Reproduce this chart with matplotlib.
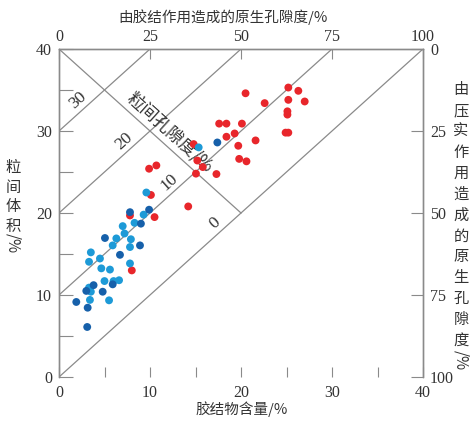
import numpy as np
import matplotlib
matplotlib.use('Agg')
import matplotlib.pyplot as plt

plt.rcParams['font.family'] = ['Liberation Serif', 'Noto Sans CJK SC', 'DejaVu Sans']
cjk = ['Noto Sans CJK SC', 'DejaVu Sans']

# 数据 (胶结物含量 %, 粒间体积 %)
red_x = [7.8, 10.5, 8.0, 10.1, 14.2, 9.9, 10.7, 14.8, 15.2, 15.8, 15.05, 17.3,
         17.6, 18.4, 20.1, 19.3, 18.4, 19.7, 21.6, 19.8, 20.6, 20.5, 22.6, 25.2,
         26.3, 25.2, 27.0, 25.1, 25.1, 24.9, 25.2]
red_y = [19.7, 19.5, 13.0, 22.2, 20.8, 25.4, 25.8, 28.4, 26.4, 25.6, 24.8, 24.75,
         30.9, 30.9, 30.9, 29.7, 29.3, 28.2, 28.85, 26.6, 26.3, 34.6, 33.4, 35.3,
         34.9, 33.8, 33.6, 32.4, 32.0, 29.8, 29.8]

lblue_x = [9.3, 8.3, 7.0, 7.2, 6.3, 7.9, 5.9, 7.8, 3.5, 4.5, 3.3, 7.8, 4.65, 5.6,
           5.0, 6.0, 6.6, 3.3, 3.5, 3.4, 5.5, 9.6, 15.35]
lblue_y = [19.8, 18.8, 18.4, 17.5, 16.9, 16.8, 16.05, 15.85, 15.2, 14.45, 14.05,
           13.85, 13.25, 13.1, 11.7, 11.7, 11.8, 10.9, 10.4, 9.4, 9.35, 22.5, 28.0]

dblue_x = [7.8, 9.9, 9.0, 5.05, 8.9, 6.7, 5.9, 3.8, 3.0, 4.8, 1.9, 3.15, 3.1, 17.4]
dblue_y = [20.1, 20.4, 18.7, 16.95, 16.05, 14.9, 11.3, 11.2, 10.5, 10.4, 9.15,
           8.45, 6.1, 28.6]

poro_levels = [0, 10, 20, 30]   # 粒间孔隙度 %
xticks = [0, 10, 20, 30, 40]
top_ticks = [0, 25, 50, 75, 100]

gray = '#8a8a8a'
tc = '#333333'
fs = 11.5

fig = plt.figure(figsize=(4.75, 4.25), dpi=100)
ax = fig.add_axes([59/475, 48/425, 364/475, 328/425])
ax.set_xlim(0, 40)
ax.set_ylim(0, 40)

for s in ['left', 'right', 'top']:
    ax.spines[s].set_color(gray)
    ax.spines[s].set_linewidth(0.9)
ax.spines['bottom'].set_visible(False)

ax.set_xticks(xticks)
ax.set_yticks(xticks)
ax.set_xticks(range(5, 40, 10), minor=True)
ax.set_yticks(range(5, 40, 10), minor=True)
ax.tick_params(axis='x', which='both', direction='in', length=7, color=gray,
               width=0.8, pad=6, labelsize=fs, labelcolor=tc)
ax.tick_params(axis='y', which='both', direction='in', length=10, color=gray,
               width=0.8, pad=5, labelsize=fs, labelcolor=tc)

# 上、右坐标轴
axt = ax.twiny()
axt.set_xlim(0, 100)
axt.set_xticks(top_ticks)
axt.tick_params(direction='in', length=7, color=gray, width=0.8, pad=3,
                labelsize=fs, labelcolor=tc)
axr = ax.twinx()
axr.set_ylim(100, 0)
axr.set_yticks(top_ticks)
axr.tick_params(direction='in', length=9, color=gray, width=0.8, pad=5,
                labelsize=fs, labelcolor=tc)
for a in [axt, axr]:
    a.spines['bottom'].set_visible(False)
    for s in ['left', 'right', 'top']:
        a.spines[s].set_color(gray)
        a.spines[s].set_linewidth(0.9)

# 等孔隙度线
for c in poro_levels:
    ax.plot([0, 40 - c], [c, 40], color=gray, lw=0.9, zorder=1)
    xi = (40 - c) / 2
    ax.text(xi - 2.3, xi - 2.3 + c + 0.3, str(c), rotation=45,
            transform_rotates_text=True, rotation_mode='anchor',
            ha='center', va='bottom', fontsize=12.5, color=tc)
ax.plot([0, 20], [40, 20], color=gray, lw=0.9, zorder=1)
ax.text(11.5, 29.0, '粒间孔隙度/%', rotation=-45, transform_rotates_text=True,
        rotation_mode='anchor', ha='center', va='bottom', fontsize=12.5,
        color=tc, family=cjk)

ax.scatter(red_x, red_y, s=32, c='#e8262b', edgecolors='none', zorder=3)
ax.scatter(lblue_x, lblue_y, s=32, c='#1d9ad7', edgecolors='none', zorder=3)
ax.scatter(dblue_x, dblue_y, s=32, c='#1660aa', edgecolors='none', zorder=3)

# 轴标题
fig.text(223/475, 1 - 17/425, '由胶结作用造成的原生孔隙度/%', ha='center',
         va='center', fontsize=10.5, color=tc, family=cjk)
fig.text(242/475, 1 - 409/425, '胶结物含量/%', ha='center', va='center',
         fontsize=10.5, color=tc, family=cjk)
fig.text(13/475, 1 - 197/425, '\n'.join('粒间体积'), ha='center', va='center',
         fontsize=11, color=tc, family=cjk, linespacing=1.2)
fig.text(13/475, 1 - 243/425, '/%', ha='center', va='center', rotation=-90,
         fontsize=11, color=tc, family=cjk)
fig.text(461/475, 1 - 215/425, '\n'.join('由压实作用造成的原生孔隙度'),
         ha='center', va='center', fontsize=11, color=tc, family=cjk,
         linespacing=1.3)
fig.text(461/475, 1 - 360/425, '/%', ha='center', va='center', rotation=-90,
         fontsize=11, color=tc, family=cjk)

fig.savefig('out.png', dpi=100)
